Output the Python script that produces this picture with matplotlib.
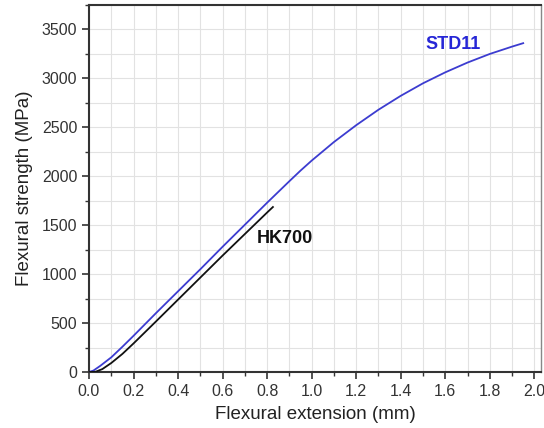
import matplotlib
matplotlib.use('Agg')
import matplotlib.pyplot as plt
from matplotlib.ticker import MultipleLocator

plt.rcParams['font.family'] = ['Liberation Sans', 'DejaVu Sans']

# STD11 curve
std_x = [0.0, 0.02, 0.05, 0.1, 0.15, 0.2, 0.3, 0.4, 0.5, 0.6, 0.7, 0.8, 0.9,
         0.95, 1.0, 1.1, 1.2, 1.3, 1.4, 1.5, 1.6, 1.7, 1.8, 1.9, 1.95]
std_y = [0, 15, 62, 150, 258, 370, 600, 825, 1050, 1280, 1505, 1730, 1950,
         2058, 2160, 2350, 2522, 2680, 2822, 2950, 3062, 3162, 3250, 3325, 3360]

# HK700 curve
hk_x = [0.0, 0.03, 0.06, 0.1, 0.15, 0.2, 0.3, 0.4, 0.5, 0.6, 0.7, 0.8, 0.826]
hk_y = [0, 3, 30, 92, 185, 292, 515, 740, 965, 1190, 1410, 1630, 1686]

fig = plt.figure(figsize=(5.44, 4.28), dpi=100)
ax = fig.add_axes([0.1636, 0.1308, 0.8309, 0.8575])

ax.plot(std_x, std_y, color='#3c3cd0', lw=1.3, zorder=3)
ax.plot(hk_x, hk_y, color='#111111', lw=1.3, zorder=3)

ax.text(1.633, 3350, 'STD11', color='#2626d6', fontsize=13, fontweight='bold',
        ha='center', va='center')
ax.text(0.755, 1367, 'HK700', color='#111111', fontsize=13, fontweight='bold',
        ha='left', va='center')

ax.set_xlim(0, 2.03)
ax.set_ylim(0, 3750)
ax.xaxis.set_major_locator(MultipleLocator(0.2))
ax.xaxis.set_minor_locator(MultipleLocator(0.1))
ax.yaxis.set_major_locator(MultipleLocator(500))
ax.yaxis.set_minor_locator(MultipleLocator(250))
ax.xaxis.set_major_formatter(plt.FuncFormatter(lambda v, p: f'{v:.1f}'))

ax.grid(True, which='both', color='#e2e2e2', lw=0.8, zorder=0)
ax.set_axisbelow(True)

for s in ['left', 'bottom', 'top']:
    ax.spines[s].set_color('#333333')
    ax.spines[s].set_linewidth(1.5)
ax.spines['right'].set_color('#888888')
ax.spines['right'].set_linewidth(1.0)

ax.tick_params(which='major', direction='out', length=5, width=1.2,
               color='#333333', labelsize=11.5, labelcolor='#333333')
ax.tick_params(which='minor', direction='out', length=3, width=1.0, color='#333333')

ax.set_xlabel('Flexural extension (mm)', fontsize=13.5, color='#222222', labelpad=5)
ax.set_ylabel('Flexural strength (MPa)', fontsize=13.5, color='#222222', labelpad=6)

fig.savefig('out.png', dpi=100)
